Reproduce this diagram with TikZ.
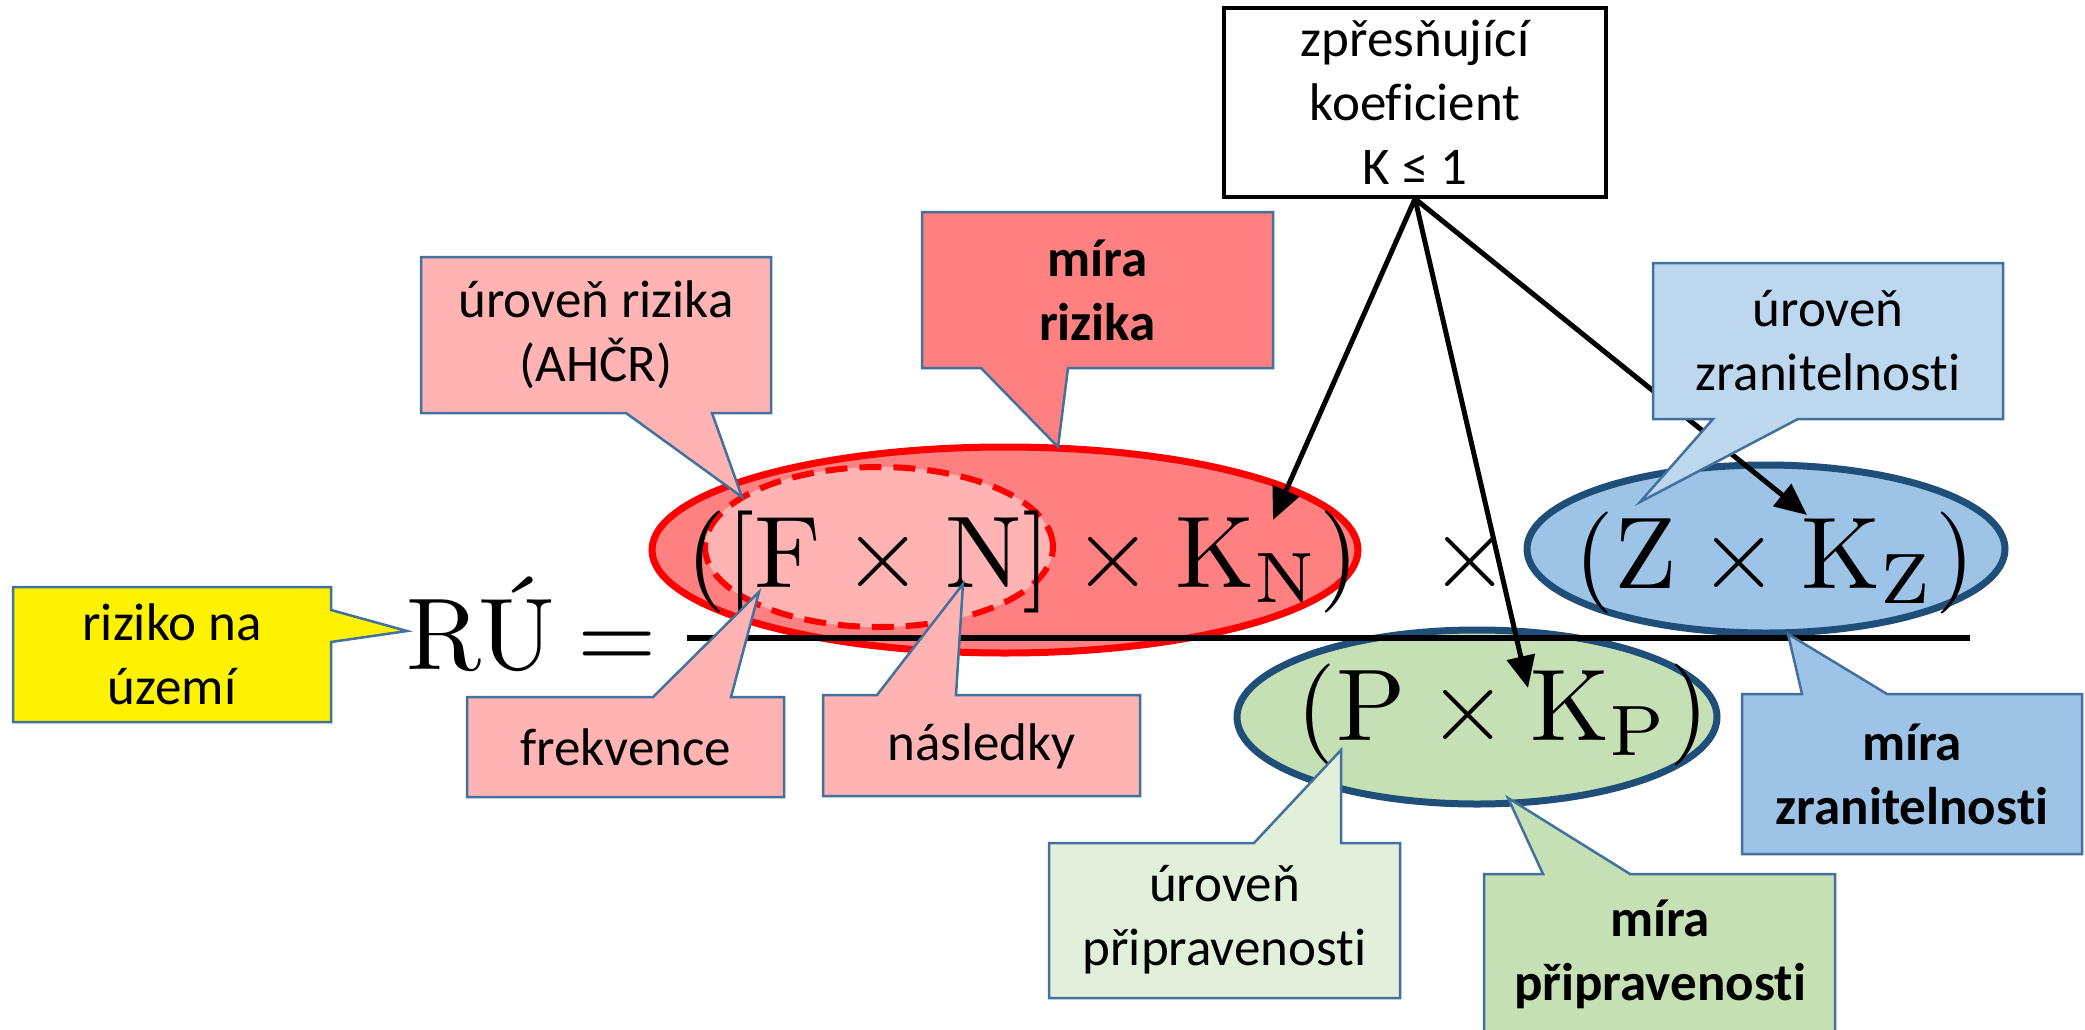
\documentclass[tikz,border=0pt]{standalone}
\usepackage{fontspec}
\newfontfamily\calfont[Ligatures=NoCommon]{Carlito}
\usetikzlibrary{arrows.meta,shapes.geometric}
\definecolor{pinkL}{HTML}{FFB3B3}
\definecolor{pinkD}{HTML}{FF8080}
\definecolor{blueL}{HTML}{BDD7EE}
\definecolor{blueM}{HTML}{9DC3E6}
\definecolor{greenL}{HTML}{E2EFDA}
\definecolor{greenM}{HTML}{C5E0B4}
\definecolor{edgeB}{HTML}{41719C}
\definecolor{ellB}{HTML}{1F4E79}
\tikzset{
  callout/.style={draw=edgeB, line width=2.5pt, line join=miter},
  lbl/.style={font=\calfont\fontsize{53}{64}\selectfont, align=center, inner sep=0pt},
  lblb/.style={font=\calfont\bfseries\fontsize{53}{64}\selectfont, align=center, inner sep=0pt},
  form/.style={inner sep=0pt, anchor=base},
  arr/.style={line width=5pt, -{Triangle[length=32pt,width=28pt]}},
  ell/.style={ellipse, inner sep=0pt, line width=7pt},
}
\begin{document}
\begin{tikzpicture}[x=1pt,y=-1pt]
\useasboundingbox (0,0) rectangle (2085,1030);
\clip (0,0) rectangle (2085,1030);
\fill[white] (0,0) rectangle (2085,1030);

% ellipses
\node[ell, draw=red, fill=pinkD, minimum width=706pt, minimum height=206pt] (eR) at (1005,550) {};
\node[ell, draw=red, fill=pinkL, line width=6pt, dash pattern=on 22pt off 12pt, minimum width=348pt, minimum height=160pt] (eD) at (879,547) {};
\node[ell, draw=ellB, fill=blueM, minimum width=478pt, minimum height=168pt] (eZ) at (1766,549) {};
\node[ell, draw=ellB, fill=greenM, minimum width=480pt, minimum height=174pt] (eP) at (1477,717) {};

% formula
\node[form] (ru) at (481,669) {\scalebox{10.2}{RÚ}};
\node[form] (eq) at (617,669) {\scalebox{10.2}{$=$}};
\node[form] (num) at (1023,587) {\scalebox{10.2}{$([\mathrm{F}\times\mathrm{N}]\times\mathrm{K}_{\mathrm{N}})$}};
\node[form] (mul) at (1470,587) {\scalebox{10.2}{$\times$}};
\node[form] (zk) at (1775,588) {\scalebox{10.2}{$(\mathrm{Z}\times\mathrm{K}_{\mathrm{Z}})$}};
\node[form] (pk) at (1503,740) {\scalebox{10.2}{$(\mathrm{P}\times\mathrm{K}_{\mathrm{P}})$}};

% fraction line
\coordinate (fracL) at (687,638);
\coordinate (fracR) at (1970,638);
\draw[line width=6pt] (fracL) -- (fracR);

% top box and arrows
\node[lbl, draw, line width=3.5pt, fill=white, minimum width=382pt, minimum height=189pt] (koef) at (1415,102.5) {zpřesňující\\koeficient\\K ≤ 1};
\coordinate (tKN) at (1273,520);
\coordinate (tKP) at (1528,688);
\coordinate (tKZ) at (1807,515);
\draw[arr] (koef.south) -- (tKN);
\draw[arr] (koef.south) -- (tKP);
\draw[arr] (koef.south) -- (tKZ);

% callouts
\draw[callout, fill=yellow] (13,587) -- (331,587) -- (331,610) -- (407,631) -- (331,642) -- (331,722) -- (13,722) -- cycle;
\node[lbl] (tRiz) at (172,654) {riziko na\\území};

\draw[callout, fill=pinkL] (421,257) -- (771,257) -- (771,413) -- (712,413) -- (742,497) -- (626,413) -- (421,413) -- cycle;
\node[lbl] (tUR) at (596,335) {úroveň rizika\\(AHČR)};

\draw[callout, fill=pinkD] (922,212) -- (1273,212) -- (1273,368) -- (1068,368) -- (1058,447) -- (981,368) -- (922,368) -- cycle;
\node[lblb] (tMR) at (1097.5,290) {míra\\rizika};

\draw[callout, fill=pinkL] (467,697) -- (653,697) -- (759,592) -- (731,697) -- (784,697) -- (784,797) -- (467,797) -- cycle;
\node[lbl] (tF) at (625.5,747) {frekvence};

\draw[callout, fill=pinkL] (823,695) -- (877,695) -- (963,584) -- (956,695) -- (1140,695) -- (1140,796) -- (823,796) -- cycle;
\node[lbl] (tN) at (981.5,746) {následky};

\draw[callout, fill=blueL] (1653,263) -- (2003,263) -- (2003,419) -- (1798,419) -- (1640,502) -- (1713,419) -- (1653,419) -- cycle;
\node[lbl] (tUZ) at (1828,341) {úroveň\\zranitelnosti};

\draw[callout, fill=blueM] (1742,694) -- (1802,694) -- (1788,634) -- (1887,694) -- (2082,694) -- (2082,854) -- (1742,854) -- cycle;
\node[lblb] (tMZ) at (1912,774) {míra\\zranitelnosti};

\draw[callout, fill=greenL] (1049,843) -- (1254,843) -- (1341,750) -- (1341,843) -- (1400,843) -- (1400,998) -- (1049,998) -- cycle;
\node[lbl] (tUP) at (1224.5,920) {úroveň\\připravenosti};

\draw[callout, fill=greenM] (1484,874) -- (1543,874) -- (1508,798) -- (1630,874) -- (1835,874) -- (1835,1034) -- (1484,1034) -- cycle;
\node[lblb] (tMP) at (1660,954) {míra\\připravenosti};
\end{tikzpicture}
\end{document}
